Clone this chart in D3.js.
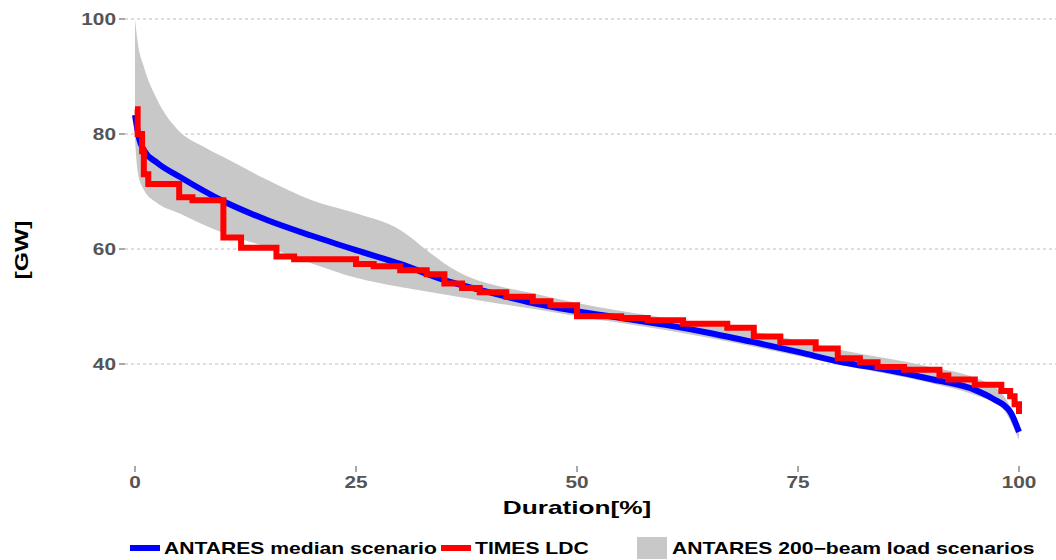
<!DOCTYPE html>
<html><head><meta charset="utf-8">
<script src="https://cdn.jsdelivr.net/npm/d3@7"></script>
<style>body{margin:0;background:#fff}svg{font-family:"Liberation Sans",Arial,sans-serif;font-weight:bold}</style>
</head><body><svg id="c" width="1056" height="560"></svg>
<script>
const medX=[0,0.5,1,2.5,5,10,15,20,25,30,35,40,45,50,55,60,65,70,75,80,85,90,95,97,99,100];
const medY=[83.3,79,77.2,75,72.6,68.3,65,62.3,59.8,57.4,54.6,52.5,50.6,49.2,48,46.8,45.4,43.8,42.1,40.3,39,37.4,35.5,34,31.7,28.2];
const bandX=[0,0.3,1,2.5,5,7.5,10,15,20,25,30,33,35,38,40,45,50,60,70,80,90,95,98,100];
const bandHi=[100,96,91.7,86,80.5,78,76,72,68.5,66.2,63.3,59.8,57.5,55,54,52.3,50.6,48,45.6,42.4,39.5,37.6,35,29.4];
const bandLo=[79,73.5,70.3,68,66.2,64.4,62.8,60.3,57.5,55,53.4,52.6,52.1,51.3,50.8,49.6,48.3,45.9,43,39.8,36.7,34.6,32.5,26.8];
const timesX=[0,0.3,0.8,1,1.5,5,6.5,10,12,16,18,25,27,30,33,35,37,39,42,45,47,50,55,58,62,67,70,73,77,79.5,82,84,87,91,92,95,98,99,99.5,100];
const timesY=[84.3,80,77,73,71.3,69,68.5,62,60.2,58.7,58.2,57.4,57,56.3,55.6,54,53.2,52.5,51.7,50.9,50.2,48.3,48,47.6,47,46.3,44.8,43.8,42.7,41,40.3,39.5,39,38,37.3,36.4,35.3,34.4,33,31.3];
const yTicks=[40,60,80,100], xTicks=[0,25,50,75,100];

const svg=d3.select("#c");
const L=125,R=1056,B=466;
const x=d3.scaleLinear().domain([0,100]).range([135,1019]);
const y=d3.scaleLinear().domain([40,100]).range([364,19]);
const g=svg.append("g");
function txt(sel,px,py,s,anchor,size,fill,sx){
  return sel.append("text").attr("transform",`translate(${px},${py}) scale(${sx},1)`)
   .attr("text-anchor",anchor).attr("font-size",size).attr("fill",fill).text(s);
}
yTicks.forEach(t=>{
  g.append("line").attr("x1",L).attr("x2",R).attr("y1",y(t)).attr("y2",y(t)).attr("stroke","#bbb").attr("stroke-dasharray","3,3");
  g.append("line").attr("x1",L-6).attr("x2",L).attr("y1",y(t)).attr("y2",y(t)).attr("stroke","#555");
  txt(g,L-9,y(t)+6,t,"end",16,"#555",1.3);
});
xTicks.forEach(t=>{
  g.append("line").attr("x1",x(t)).attr("x2",x(t)).attr("y1",B).attr("y2",B+6).attr("stroke","#555");
  txt(g,x(t),B+22,t,"middle",16,"#555",1.3);
});
const band=bandX.map((v,i)=>({x:v,h:bandHi[i],l:bandLo[i]}));
g.append("path").datum(band).attr("fill","#c8c8c8")
 .attr("d",d3.area().x(d=>x(d.x)).y0(d=>y(d.l)).y1(d=>y(d.h)).curve(d3.curveMonotoneX));
const med=medX.map((v,i)=>[v,medY[i]]);
g.append("path").datum(med).attr("fill","none").attr("stroke","#0000ff").attr("stroke-width",6)
 .attr("d",d3.line().x(d=>x(d[0])).y(d=>y(d[1])).curve(d3.curveMonotoneX));
const tim=timesX.map((v,i)=>[v,timesY[i]]);
g.append("path").datum(tim).attr("fill","none").attr("stroke","#ff0000").attr("stroke-width",6)
 .attr("d",d3.line().x(d=>x(d[0])).y(d=>y(d[1])).curve(d3.curveStepAfter));
svg.append("text").attr("transform","translate(28,250) rotate(-90) scale(1.3,1)").attr("text-anchor","middle").attr("font-size",19).text("[GW]");
txt(svg,577,514,"Duration[%]","middle",19,"#000",1.38);
const lg=svg.append("g");
lg.append("line").attr("x1",130).attr("x2",160).attr("y1",548).attr("y2",548).attr("stroke","#0000ff").attr("stroke-width",6);
txt(lg,164,554,"ANTARES median scenario","start",16,"#000",1.32);
lg.append("line").attr("x1",441).attr("x2",471).attr("y1",548).attr("y2",548).attr("stroke","#ff0000").attr("stroke-width",6);
txt(lg,475,554,"TIMES LDC","start",16,"#000",1.32);
lg.append("rect").attr("x",637).attr("y",537).attr("width",30).attr("height",22).attr("fill","#c8c8c8");
txt(lg,672,554,"ANTARES 200\u2212beam load scenarios","start",16,"#000",1.32);
</script></body></html>
